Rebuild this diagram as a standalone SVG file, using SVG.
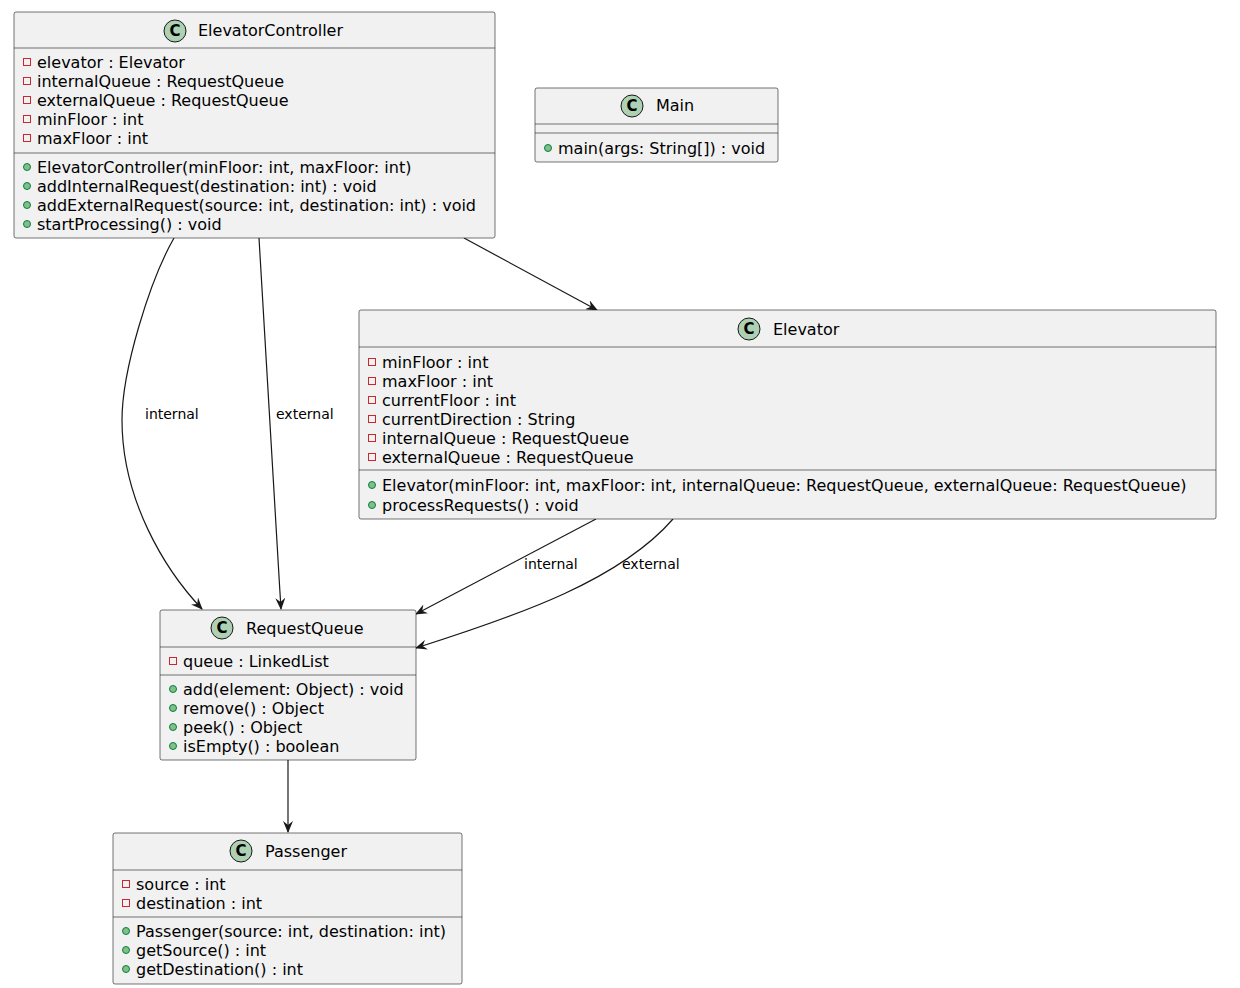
<svg xmlns="http://www.w3.org/2000/svg" width="1240" height="988" viewBox="0 0 1240 988">
<style>
text{font-family:"DejaVu Sans",sans-serif;font-size:16px;fill:#000}
.box{fill:#F1F1F1;stroke:#181818;stroke-width:0.6}
.sep{stroke:#181818;stroke-width:0.6}
.ci{fill:#ADD1B2;stroke:#181818;stroke-width:1}
.cl{font-weight:bold;font-size:15px;text-anchor:middle}
.pv{fill:none;stroke:#C82930;stroke-width:1}
.pb{fill:#84BE84;stroke:#038048;stroke-width:1}
.e{fill:none;stroke:#181818;stroke-width:1.2}
.lb{font-size:14px}
</style>
<defs>
<marker id="a" viewBox="0 0 12 10" refX="11" refY="5" markerWidth="12" markerHeight="10" markerUnits="userSpaceOnUse" orient="auto">
<path d="M0,0 L12,5 L0,10 L4,5 z" fill="#181818"/>
</marker>
<symbol id="priv" overflow="visible"><rect class="pv" x="-3.5" y="-3.5" width="7" height="7"/></symbol>
<symbol id="pub" overflow="visible"><circle class="pb" r="3.5"/></symbol>
</defs>

<g id="connectors">
<path class="e" d="M464,238 L597,310" marker-end="url(#a)"/>
<path class="e" d="M174,238 C150,280 122,370 122,420 C122,500 165,570 202,609" marker-end="url(#a)"/>
<text class="lb" x="145" y="419">internal</text>
<path class="e" d="M259,238 C265,350 273,480 281,609" marker-end="url(#a)"/>
<text class="lb" x="276" y="419">external</text>
<path class="e" d="M596,519 L416,614" marker-end="url(#a)"/>
<text class="lb" x="524" y="569">internal</text>
<path class="e" d="M673,519 C620,580 520,615 416,648" marker-end="url(#a)"/>
<text class="lb" x="622" y="569">external</text>
<path class="e" d="M288,760 L288,832" marker-end="url(#a)"/>
</g>

<g id="ElevatorController">
<rect class="box" x="14" y="12" width="481" height="226" rx="2"/>
<line class="sep" x1="14" y1="48" x2="495" y2="48"/>
<line class="sep" x1="14" y1="153" x2="495" y2="153"/>
<circle class="ci" cx="175" cy="31" r="11"/><text class="cl" x="175" y="36">C</text>
<text x="198" y="36">ElevatorController</text>
<use href="#priv" x="27" y="62"/><text x="37" y="68">elevator : Elevator</text>
<use href="#priv" x="27" y="81"/><text x="37" y="87">internalQueue : RequestQueue</text>
<use href="#priv" x="27" y="100"/><text x="37" y="106">externalQueue : RequestQueue</text>
<use href="#priv" x="27" y="119"/><text x="37" y="125">minFloor : int</text>
<use href="#priv" x="27" y="138"/><text x="37" y="144">maxFloor : int</text>
<use href="#pub" x="27" y="167"/><text x="37" y="173">ElevatorController(minFloor: int, maxFloor: int)</text>
<use href="#pub" x="27" y="186"/><text x="37" y="192">addInternalRequest(destination: int) : void</text>
<use href="#pub" x="27" y="205"/><text x="37" y="211">addExternalRequest(source: int, destination: int) : void</text>
<use href="#pub" x="27" y="224"/><text x="37" y="230">startProcessing() : void</text>
</g>

<g id="Main">
<rect class="box" x="535" y="88" width="243" height="74" rx="2"/>
<line class="sep" x1="535" y1="124" x2="778" y2="124"/>
<line class="sep" x1="535" y1="133" x2="778" y2="133"/>
<circle class="ci" cx="632" cy="106" r="11"/><text class="cl" x="632" y="111">C</text>
<text x="656" y="111">Main</text>
<use href="#pub" x="548" y="148"/><text x="558" y="154">main(args: String[]) : void</text>
</g>

<g id="Elevator">
<rect class="box" x="359" y="310" width="857" height="209" rx="2"/>
<line class="sep" x1="359" y1="347" x2="1216" y2="347"/>
<line class="sep" x1="359" y1="470" x2="1216" y2="470"/>
<circle class="ci" cx="749" cy="329" r="11"/><text class="cl" x="749" y="334">C</text>
<text x="773" y="335">Elevator</text>
<use href="#priv" x="372" y="362"/><text x="382" y="368">minFloor : int</text>
<use href="#priv" x="372" y="381"/><text x="382" y="387">maxFloor : int</text>
<use href="#priv" x="372" y="400"/><text x="382" y="406">currentFloor : int</text>
<use href="#priv" x="372" y="419"/><text x="382" y="425">currentDirection : String</text>
<use href="#priv" x="372" y="438"/><text x="382" y="444">internalQueue : RequestQueue</text>
<use href="#priv" x="372" y="457"/><text x="382" y="463">externalQueue : RequestQueue</text>
<use href="#pub" x="372" y="485"/><text x="382" y="491">Elevator(minFloor: int, maxFloor: int, internalQueue: RequestQueue, externalQueue: RequestQueue)</text>
<use href="#pub" x="372" y="505"/><text x="382" y="511">processRequests() : void</text>
</g>

<g id="RequestQueue">
<rect class="box" x="160" y="610" width="256" height="150" rx="2"/>
<line class="sep" x1="160" y1="647" x2="416" y2="647"/>
<line class="sep" x1="160" y1="675" x2="416" y2="675"/>
<circle class="ci" cx="222" cy="628" r="11"/><text class="cl" x="222" y="633">C</text>
<text x="246" y="634">RequestQueue</text>
<use href="#priv" x="173" y="661"/><text x="183" y="667">queue : LinkedList</text>
<use href="#pub" x="173" y="689"/><text x="183" y="695">add(element: Object) : void</text>
<use href="#pub" x="173" y="708"/><text x="183" y="714">remove() : Object</text>
<use href="#pub" x="173" y="727"/><text x="183" y="733">peek() : Object</text>
<use href="#pub" x="173" y="746"/><text x="183" y="752">isEmpty() : boolean</text>
</g>

<g id="Passenger">
<rect class="box" x="113" y="833" width="349" height="151" rx="2"/>
<line class="sep" x1="113" y1="870" x2="462" y2="870"/>
<line class="sep" x1="113" y1="917" x2="462" y2="917"/>
<circle class="ci" cx="241" cy="851" r="11"/><text class="cl" x="241" y="856">C</text>
<text x="265" y="857">Passenger</text>
<use href="#priv" x="126" y="884"/><text x="136" y="890">source : int</text>
<use href="#priv" x="126" y="903"/><text x="136" y="909">destination : int</text>
<use href="#pub" x="126" y="931"/><text x="136" y="937">Passenger(source: int, destination: int)</text>
<use href="#pub" x="126" y="950"/><text x="136" y="956">getSource() : int</text>
<use href="#pub" x="126" y="969"/><text x="136" y="975">getDestination() : int</text>
</g>
</svg>
